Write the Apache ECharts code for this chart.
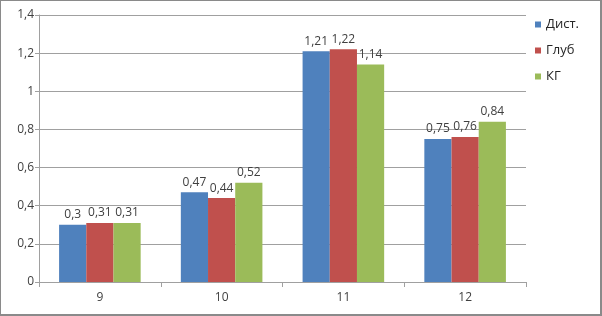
<!DOCTYPE html>
<html>
<head>
<meta charset="utf-8">
<script src="https://cdn.jsdelivr.net/npm/echarts@6/dist/echarts.min.js"></script>
<style>
  html, body { margin: 0; padding: 0; background: #fff; }
  #frame {
    width: 599px;
    height: 313px;
    border-left: 1px solid #8a8a8a;
    border-top: 1px solid #8a8a8a;
    border-right: 2px solid #8a8a8a;
    border-bottom: 2px solid #8a8a8a;
  }
  #chart { width: 599px; height: 313px; }
</style>
</head>
<body>
<div id="frame"><div id="chart"></div></div>
<script>
var categories = ["9", "10", "11", "12"];
var dist = [0.3, 0.47, 1.21, 0.75];
var glub = [0.31, 0.44, 1.22, 0.76];
var kg = [0.31, 0.52, 1.14, 0.84];
var seriesNames = ["Дист.", "Глуб", "КГ"];

function comma(v) {
  return String(v).replace(".", ",");
}

var chart = echarts.init(document.getElementById("chart"), null, { renderer: "canvas" });

var labelStyle = {
  show: true,
  position: "top",
  distance: 4,
  color: "#404040",
  fontSize: 12,
  fontFamily: "Open Sans",
  formatter: function (p) { return comma(p.value); }
};

function makeSeries(name, data, color) {
  return {
    name: name,
    type: "bar",
    data: data,
    barGap: "0%",
    barCategoryGap: "33%",
    itemStyle: { color: color },
    label: labelStyle
  };
}

var option = {
  backgroundColor: "#fff",
  animation: false,
  textStyle: { fontFamily: "Open Sans" },
  legend: {
    orient: "vertical",
    left: 529,
    top: 12,
    itemWidth: 6,
    itemHeight: 6,
    itemGap: 13,
    icon: "rect",
    textStyle: { color: "#262626", fontSize: 13, fontFamily: "Open Sans" },
    data: seriesNames
  },
  grid: { left: 38, right: 74, top: 14, bottom: 32 },
  xAxis: {
    type: "category",
    data: categories,
    axisLine: { lineStyle: { color: "#a0a0a0" } },
    axisTick: { show: true, length: 5, lineStyle: { color: "#a0a0a0" } },
    axisLabel: { color: "#404040", fontSize: 12, margin: 10 }
  },
  yAxis: {
    type: "value",
    min: 0,
    max: 1.4,
    interval: 0.2,
    axisLine: { show: true, lineStyle: { color: "#a0a0a0" } },
    axisTick: { show: true, length: 4, lineStyle: { color: "#a0a0a0" } },
    splitLine: { lineStyle: { color: "#a0a0a0" } },
    axisLabel: {
      color: "#404040",
      fontSize: 12,
      margin: 5,
      formatter: function (v) { return comma(Math.round(v * 10) / 10); }
    }
  },
  series: [
    makeSeries(seriesNames[0], dist, "#4f81bd"),
    makeSeries(seriesNames[1], glub, "#c0504d"),
    makeSeries(seriesNames[2], kg, "#9bbb59")
  ]
};

chart.setOption(option);
</script>
</body>
</html>
